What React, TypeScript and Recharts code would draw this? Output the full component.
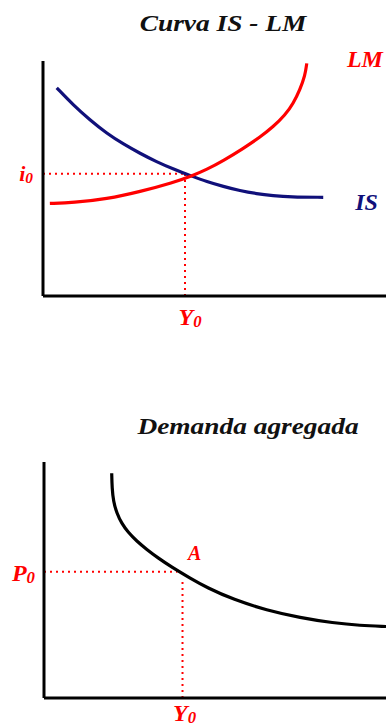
import { LineChart, Line, XAxis, YAxis, ReferenceLine, ReferenceDot } from "recharts";

// IS-LM panel (arbitrary units, 0-10 on both axes)
const lmX = [0.2, 0.88, 1.86, 2.83, 3.8, 4.34, 4.77, 5.26, 5.84, 6.33, 6.71, 7.06, 7.3, 7.49, 7.64, 7.69];
const lmY = [3.94, 3.97, 4.13, 4.44, 4.83, 5.11, 5.38, 5.76, 6.28, 6.76, 7.2, 7.7, 8.2, 8.78, 9.38, 9.9];
const isX = [0.4, 0.88, 1.37, 1.86, 2.35, 2.83, 3.31, 3.8, 4.34, 4.77, 5.26, 5.74, 6.23, 6.71, 7.2, 8.17];
const isY = [8.86, 8.13, 7.49, 6.92, 6.46, 6.07, 5.71, 5.4, 5.1, 4.87, 4.66, 4.48, 4.35, 4.27, 4.21, 4.2];
const i0 = 5.2;
const y0Top = 4.14;

// aggregate demand panel
const adX = [1.98, 1.99, 2.03, 2.13, 2.27, 2.46, 2.71, 3.0, 3.34, 3.73, 4.27, 4.76, 5.54, 6.51, 7.49, 8.46, 9.24, 10];
const adY = [9.52, 8.9, 8.32, 7.83, 7.4, 7.02, 6.65, 6.3, 5.93, 5.55, 5.08, 4.68, 4.17, 3.72, 3.4, 3.18, 3.07, 3.03];
const p0 = 5.35;
const y0Bottom = 4.05;
const pointA = { x: 3.9, y: 5.35 };

const titles = ["Curva IS - LM", "Demanda agregada"];

const RED = "#ff0000";
const NAVY = "#10107a";
const SERIF = "'Liberation Serif', 'DejaVu Serif', serif";

const toPoints = (xs: number[], ys: number[]) => xs.map((x, i) => ({ x, y: ys[i] }));

const SubText = ({ x, y, main, anchor, size = 24 }: any) => (
  <text
    x={x}
    y={y}
    fill={RED}
    fontFamily={SERIF}
    fontStyle="italic"
    fontWeight="bold"
    fontSize={size}
    textAnchor={anchor}
  >
    {main}
    <tspan fontSize={size * 0.7} dy={2}>
      0
    </tspan>
  </text>
);

const CurveTag = ({ viewBox, text, color, size = 24 }: any) => (
  <text
    x={viewBox?.x}
    y={viewBox?.y}
    fill={color}
    fontFamily={SERIF}
    fontStyle="italic"
    fontWeight="bold"
    fontSize={size}
  >
    {text}
  </text>
);

const Title = ({ text, top, center }: { text: string; top: number; center: number }) => (
  <div
    style={{
      position: "absolute",
      top,
      left: center,
      transform: "translateX(-50%) scaleX(1.19)",
      fontFamily: SERIF,
      fontStyle: "italic",
      fontWeight: "bold",
      fontSize: 23,
      lineHeight: "23px",
      whiteSpace: "nowrap",
      color: "#111",
    }}
  >
    {text}
  </div>
);

const dots = { stroke: RED, strokeWidth: 2, strokeDasharray: "2 4" };
const axisLine = { stroke: "#000", strokeWidth: 3 };

export default function App() {
  return (
    <div style={{ position: "absolute", left: 0, top: 0, width: 386, height: 727, background: "#fff" }}>
      <Title text={titles[0]} top={12} center={223} />
      <div style={{ position: "absolute", left: 0, top: 0 }}>
        <LineChart width={386} height={340} margin={{ top: 61, right: 0, bottom: 0, left: 0 }}>
          <XAxis
            type="number"
            dataKey="x"
            domain={[0, 10]}
            ticks={[y0Top]}
            height={44}
            tickLine={false}
            axisLine={axisLine}
            tick={(p: any) => <SubText x={p.x + 5} y={p.y + 21} main="Y" anchor="middle" />}
          />
          <YAxis
            type="number"
            dataKey="y"
            domain={[0, 10]}
            ticks={[i0]}
            width={43}
            tickLine={false}
            axisLine={axisLine}
            tick={(p: any) => <SubText x={p.x - 2} y={p.y + 7} main="i" anchor="end" size={22} />}
          />
          <ReferenceLine segment={[{ x: 0, y: i0 }, { x: y0Top, y: i0 }]} {...dots} />
          <ReferenceLine segment={[{ x: y0Top, y: 0 }, { x: y0Top, y: i0 }]} {...dots} />
          <Line
            data={toPoints(isX, isY)}
            dataKey="y"
            type="basis"
            stroke={NAVY}
            strokeWidth={3.2}
            dot={false}
            isAnimationActive={false}
          />
          <Line
            data={toPoints(lmX, lmY)}
            dataKey="y"
            type="basis"
            stroke={RED}
            strokeWidth={3.2}
            dot={false}
            isAnimationActive={false}
          />
          <ReferenceDot x={8.86} y={9.74} r={0} ifOverflow="visible" label={<CurveTag text="LM" color={RED} />} />
          <ReferenceDot x={9.1} y={3.66} r={0} ifOverflow="visible" label={<CurveTag text="IS" color={NAVY} />} />
        </LineChart>
      </div>

      <Title text={titles[1]} top={415} center={248} />
      <div style={{ position: "absolute", left: 0, top: 400 }}>
        <LineChart width={386} height={327} margin={{ top: 62, right: 0, bottom: 0, left: 0 }}>
          <XAxis
            type="number"
            dataKey="x"
            domain={[0, 10]}
            ticks={[y0Bottom]}
            height={29}
            tickLine={false}
            axisLine={axisLine}
            tick={(p: any) => <SubText x={p.x + 2} y={p.y + 15} main="Y" anchor="middle" />}
          />
          <YAxis
            type="number"
            dataKey="y"
            domain={[0, 10]}
            ticks={[p0]}
            width={44}
            tickLine={false}
            axisLine={axisLine}
            tick={(p: any) => <SubText x={p.x - 1} y={p.y + 9} main="P" anchor="end" />}
          />
          <ReferenceLine segment={[{ x: 0, y: p0 }, { x: pointA.x, y: p0 }]} {...dots} />
          <ReferenceLine segment={[{ x: y0Bottom, y: 0 }, { x: y0Bottom, y: 4.93 }]} {...dots} />
          <Line
            data={toPoints(adX, adY)}
            dataKey="y"
            type="basis"
            stroke="#000"
            strokeWidth={3.2}
            dot={false}
            isAnimationActive={false}
          />
          <ReferenceDot x={4.21} y={5.85} r={0} ifOverflow="visible" label={<CurveTag text="A" color={RED} size={20} />} />
        </LineChart>
      </div>
    </div>
  );
}
